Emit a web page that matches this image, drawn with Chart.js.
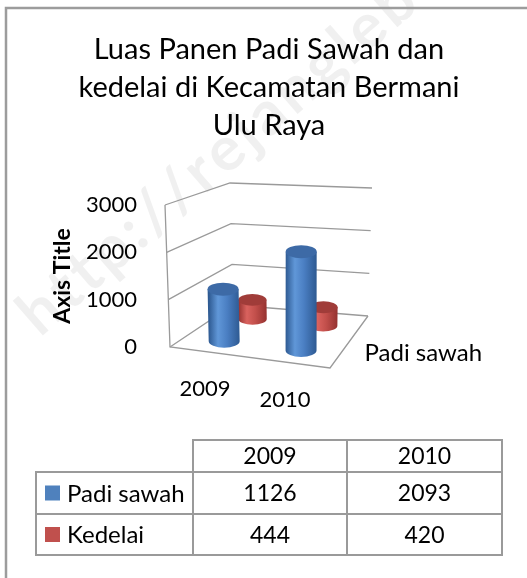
<!DOCTYPE html>
<html>
<head>
<meta charset="utf-8">
<script src="https://cdn.jsdelivr.net/npm/chart.js@4.4.1/dist/chart.umd.min.js"></script>
<style>
  html, body { margin: 0; padding: 0; background: #fff; }
  #wrap { width: 527px; height: 578px; position: relative; }
</style>
</head>
<body>
<div id="wrap"><canvas id="chart" width="527" height="578"></canvas></div>
<script>
// data
const categories = ['2009', '2010'];
const seriesNames = ['Padi sawah', 'Kedelai'];
const padiSawah = [1126, 2093];
const kedelai = [444, 420];
const yTicks = [0, 1000, 2000, 3000];
const titleLines = ['Luas Panen Padi Sawah dan', 'kedelai di Kecamatan Bermani', 'Ulu Raya'];
const axisTitle = 'Axis Title';
const watermark = 'http://rejanglebong';

const FONT = 'Lato, "Open Sans", sans-serif';
const blue = { legend: '#4f81bd', dark: '#2e5a92', light: '#6097d8', mid: '#4a7ec2', top: '#3d6aa6' };
const red = { legend: '#c0504d', dark: '#953230', light: '#d9625e', mid: '#c24f4b', top: '#a03c39' };
const lineGray = '#9a9a9a';

// perspective box, all relative to the front plane (chart area)
function proj(ca, u, w, v) {
    const L = ca.left, B = ca.bottom;
    const FL = [L, B], FR = [ca.right, B + 21], BL = [L + 63, B - 42], BR = [L + 198, B - 31];
    const fx = (1 - u) * FL[0] + u * FR[0], fy = (1 - u) * FL[1] + u * FR[1];
    const bx = (1 - u) * BL[0] + u * BR[0], by = (1 - u) * BL[1] + u * BR[1];
    const x = (1 - w) * fx + w * bx, y = (1 - w) * fy + w * by;
    const h = (1 - w) * ((1 - u) * ca.height + u * (ca.height + 6)) + w * ((1 - u) * (ca.height - 20) + u * (ca.height - 14));
    const lean = (1 - w) * ((1 - u) * -5 + u * 1) + w * ((1 - u) * -3 + u * 4);
    return [x + lean * v, y - h * v];
}

function line(ctx, pts) {
    ctx.beginPath();
    ctx.moveTo(pts[0][0], pts[0][1]);
    for (let i = 1; i < pts.length; i++) ctx.lineTo(pts[i][0], pts[i][1]);
    ctx.stroke();
}

function cylinder(ctx, b, t, rx, ry, col) {
    const g = ctx.createLinearGradient(b[0] - rx, 0, b[0] + rx, 0);
    g.addColorStop(0, col.dark);
    g.addColorStop(0.3, col.light);
    g.addColorStop(0.6, col.mid);
    g.addColorStop(1, col.dark);
    ctx.fillStyle = g;
    ctx.beginPath();
    ctx.moveTo(t[0] - rx, t[1]);
    ctx.lineTo(b[0] - rx, b[1]);
    ctx.ellipse(b[0], b[1], rx, ry, 0, Math.PI, 0, true);
    ctx.lineTo(t[0] + rx, t[1]);
    ctx.closePath();
    ctx.fill();
    ctx.fillStyle = col.top;
    ctx.beginPath();
    ctx.ellipse(t[0], t[1], rx, ry, 0, 0, Math.PI * 2);
    ctx.fill();
}

const box3d = {
    id: 'box3d',
    beforeDraw(chart) {
        const ctx = chart.ctx;
        ctx.save();
        // faint watermark running diagonally
        ctx.translate(40, 338);
        ctx.rotate(-41 * Math.PI / 180);
        ctx.font = 'bold 62px ' + FONT;
        ctx.fillStyle = 'rgba(0,0,0,0.06)';
        let wx = 0;
        for (const ch of watermark) {
            ctx.fillText(ch, wx, 0);
            wx += ctx.measureText(ch).width + 4;
        }
        ctx.restore();
        // chart frame
        ctx.save();
        ctx.strokeStyle = '#9c9c9c';
        ctx.lineWidth = 2.5;
        line(ctx, [[6, 600], [6, 8], [540, 8]]);
        ctx.restore();
    },
    beforeDatasetsDraw(chart) {
        const ctx = chart.ctx, ca = chart.chartArea, y = chart.scales.y;
        ctx.save();
        ctx.strokeStyle = lineGray;
        ctx.lineWidth = 1.3;
        yTicks.forEach(val => {
            const v = (ca.bottom - y.getPixelForValue(val)) / ca.height;
            line(ctx, [proj(ca, 0, 0, v), proj(ca, 0, 1, v), proj(ca, 1, 1, v)]);
        });
        line(ctx, [proj(ca, 0, 0, 1), proj(ca, 0, 0, 0), proj(ca, 1, 0, 0), proj(ca, 1, 1, 0)]);
        ctx.restore();
    },
    afterDatasetsDraw(chart) {
        const ctx = chart.ctx, ca = chart.chartArea;
        const depth = [0.25, 0.75];
        const cols = [blue, red];
        ctx.save();
        for (let d = chart.data.datasets.length - 1; d >= 0; d--) {
            chart.getDatasetMeta(d).data.forEach(el => {
                const u = (el.x - ca.left) / ca.width;
                const hw = el.width / 2 / ca.width;
                const v = (ca.bottom - el.y) / ca.height;
                const b = proj(ca, u, depth[d], 0), t = proj(ca, u, depth[d], v);
                const l = proj(ca, u - hw, depth[d], 0), r = proj(ca, u + hw, depth[d], 0);
                const rx = Math.hypot(r[0] - l[0], r[1] - l[1]) / 2;
                cylinder(ctx, b, t, rx, rx * 0.42, cols[d]);
            });
        }
        // category labels along the floor front edge
        ctx.fillStyle = '#000';
        ctx.font = '22px ' + FONT;
        ctx.textAlign = 'center';
        ctx.textBaseline = 'middle';
        chart.getDatasetMeta(0).data.forEach((el, i) => {
            const p = proj(ca, (el.x - ca.left) / ca.width, 0, 0);
            ctx.fillText(categories[i], p[0] - 5, p[1] + 37);
        });
        // depth axis label
        const q = proj(ca, 1, depth[0], 0);
        ctx.font = '24px ' + FONT;
        ctx.textAlign = 'left';
        ctx.fillText(seriesNames[0], q[0] + 25, q[1] - 2);
        ctx.restore();
    },
    afterDraw(chart) {
        // data table
        const ctx = chart.ctx;
        const xs = [36, 193, 347, 502];
        const ys = [440, 472, 514, 555];
        const rows = [padiSawah, kedelai];
        const cols = [blue, red];
        ctx.save();
        ctx.strokeStyle = lineGray;
        ctx.lineWidth = 2;
        line(ctx, [[xs[1], ys[3]], [xs[1], ys[0]], [xs[3], ys[0]], [xs[3], ys[3]], [xs[0], ys[3]], [xs[0], ys[1]], [xs[3], ys[1]]]);
        line(ctx, [[xs[0], ys[2]], [xs[3], ys[2]]]);
        line(ctx, [[xs[2], ys[0]], [xs[2], ys[3]]]);
        ctx.fillStyle = '#000';
        ctx.font = '23px ' + FONT;
        ctx.textBaseline = 'middle';
        ctx.textAlign = 'center';
        categories.forEach((c, i) => ctx.fillText(c, (xs[i + 1] + xs[i + 2]) / 2, (ys[0] + ys[1]) / 2 + 1));
        rows.forEach((vals, r) => {
            const cy = (ys[r + 1] + ys[r + 2]) / 2;
            vals.forEach((val, i) => {
                ctx.fillStyle = '#000';
                ctx.textAlign = 'center';
                ctx.fillText(String(val), (xs[i + 1] + xs[i + 2]) / 2, cy + 1);
            });
            ctx.fillStyle = cols[r].legend;
            ctx.fillRect(45, cy - 7.5, 15, 15);
            ctx.fillStyle = '#000';
            ctx.textAlign = 'left';
            ctx.font = '24px ' + FONT;
            ctx.fillText(seriesNames[r], 67, cy + 1);
            ctx.font = '23px ' + FONT;
        });
        ctx.restore();
    }
};

new Chart(document.getElementById('chart'), {
    type: 'bar',
    data: {
        labels: categories,
        datasets: [
            { label: seriesNames[0], data: padiSawah, backgroundColor: 'rgba(0,0,0,0)', borderWidth: 0 },
            { label: seriesNames[1], data: kedelai, backgroundColor: 'rgba(0,0,0,0)', borderWidth: 0 }
        ]
    },
    options: {
        responsive: false,
        animation: false,
        events: [],
        datasets: { bar: { grouped: false, barPercentage: 0.4, categoryPercentage: 1 } },
        layout: { padding: { left: 11, top: 0, right: 0, bottom: 231 } },
        plugins: {
            legend: { display: false },
            tooltip: { enabled: false },
            title: {
                display: true,
                text: titleLines,
                color: '#000',
                font: { family: FONT, size: 29, weight: 'normal', lineHeight: '38px' },
                padding: { top: 31, bottom: 60 }
            }
        },
        scales: {
            x: { display: false },
            y: {
                min: 0,
                max: 3000,
                afterBuildTicks: s => { s.ticks = yTicks.map(v => ({ value: v })); },
                afterFit: s => { s.width = 159; },
                ticks: { padding: 33, color: '#000', font: { family: FONT, size: 22 }, callback: v => String(v) },
                grid: { display: false, drawTicks: false },
                border: { display: false },
                title: {
                    display: true,
                    text: axisTitle,
                    color: '#000',
                    font: { family: FONT, size: 23, weight: 'bold' },
                    padding: { top: 38, bottom: 0 }
                }
            },
            side: {
                position: 'right',
                min: 0,
                max: 1,
                afterFit: s => { s.width = 197; },
                ticks: { display: false },
                grid: { display: false, drawTicks: false },
                border: { display: false }
            }
        }
    },
    plugins: [box3d]
});
</script>
</body>
</html>
